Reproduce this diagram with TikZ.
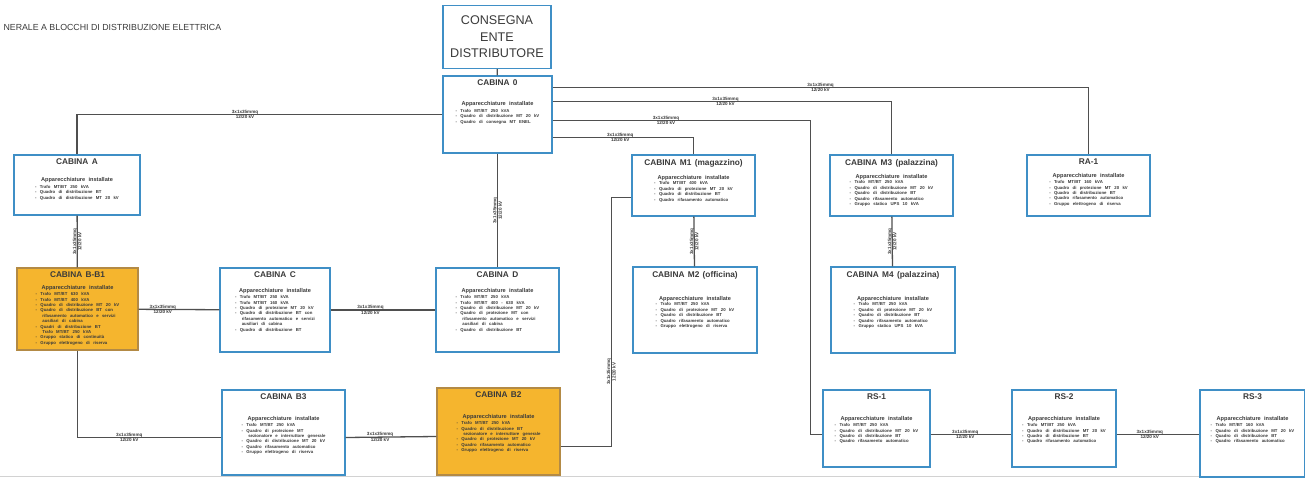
\documentclass[tikz,border=0pt]{standalone}
\usepackage{fontspec}
\setmainfont{Liberation Sans}
\usepackage{xcolor}
\usetikzlibrary{positioning}

\definecolor{boxblue}{HTML}{3F8FC6}
\definecolor{boxorange}{HTML}{F5B52E}
\definecolor{orangeedge}{HTML}{B38A45}
\definecolor{wire}{HTML}{4F4F4F}
\definecolor{txtgray}{HTML}{3A3A3A}

% contents of a cabin box: height, gap, title, list
\newcommand{\cabtext}[4]{\parbox[c][#1][t]{\linewidth}{\centering\vspace*{2pt}
  {\fontsize{8.3}{9.5}\selectfont\bfseries #3}\par\vspace{#2}
  {\fontsize{5.6}{6.4}\selectfont\bfseries Apparecchiature installate}\par
  {\fontsize{4.3}{5.4}\selectfont\bfseries\begin{tabular}{@{}l@{}}#4\end{tabular}}}}
\newcommand{\cavo}{3x1x35mmq\\12/20 kV}

\begin{document}
\begin{tikzpicture}[x=1pt,y=-1pt,
  cabbox/.style={draw=boxblue, line width=1.3pt, fill=white, inner sep=2pt, text=txtgray},
  hotbox/.style={cabbox, fill=boxorange, draw=orangeedge},
  wireline/.style={draw=wire, line width=1.3pt},
  cable/.style={font=\fontsize{4.6}{5.4}\selectfont\bfseries, align=center, inner sep=0.5pt, text=txtgray}]
\useasboundingbox (0,0) rectangle (1305,484);

\node[anchor=west, font=\fontsize{8.8}{9}\selectfont, text=txtgray] (title) at (0,27) {NERALE A BLOCCHI DI DISTRIBUZIONE ELETTRICA};

\node[cabbox, text width=104pt, minimum height=63pt, align=center,
  font=\fontsize{12.6}{16.5}\selectfont] (consegna) at (497,37) {CONSEGNA\\ENTE\\DISTRIBUTORE};

% first row
\node[cabbox, text width=105pt] (c0) at (497.5,114.5) {\cabtext{73pt}{8pt}{CABINA 0}{%
  - Trafo MT/BT 250 kVA\\- Quadro di distribuzione MT 20 kV\\- Quadro di consegna MT ENEL}};
\node[cabbox, text width=122pt] (ca) at (77,185) {\cabtext{56pt}{5pt}{CABINA A}{%
  - Trafo MT/BT 250 kVA\\- Quadro di distribuzione BT\\- Quadro di distribuzione MT 20 kV}};
\node[cabbox, text width=119pt] (m1) at (693.5,185.5) {\cabtext{57pt}{2pt}{CABINA M1 (magazzino)}{%
  - Trafo MT/BT 400 kVA\\- Quadro di protezione MT 20 kV\\- Quadro di distribuzione BT\\- Quadro rifasamento automatico}};
\node[cabbox, text width=119pt] (m3) at (891.5,185.5) {\cabtext{57pt}{1pt}{CABINA M3 (palazzina)}{%
  - Trafo MT/BT 250 kVA\\- Quadro di distribuzione MT 20 kV\\- Quadro di distribuzione BT\\- Quadro rifasamento automatico\\- Gruppo statico UPS 10 kVA}};
\node[cabbox, text width=119pt] (ra) at (1088.5,185.5) {\cabtext{57pt}{1pt}{RA-1}{%
  - Trafo MT/BT 160 kVA\\- Quadro di protezione MT 20 kV\\- Quadro di distribuzione BT\\- Quadro rifasamento automatico\\- Gruppo elettrogeno di riserva}};

% second row
\node[hotbox, text width=117pt] (bb) at (77.5,309) {\cabtext{78pt}{0pt}{CABINA B-B1}{%
  - Trafo MT/BT 630 kVA\\- Trafo MT/BT 400 kVA\\- Quadro di distribuzione MT 20 kV\\- Quadro di distribuzione BT con\\
  \ \ rifasamento automatico e servizi\\\ \ ausiliari di cabina\\- Quadri di distribuzione BT\\\ \ Trafo MT/BT 250 kVA\\
  - Gruppo statico di continuit\`a\\- Gruppo elettrogeno di riserva}};
\node[cabbox, text width=106pt] (cc) at (275,310) {\cabtext{80pt}{3pt}{CABINA C}{%
  - Trafo MT/BT 250 kVA\\- Trafo MT/BT 160 kVA\\- Quadro di protezione MT 20 kV\\- Quadro di distribuzione BT con\\
  \ \ rifasamento automatico e servizi\\\ \ ausiliari di cabina\\- Quadro di distribuzione BT}};
\node[cabbox, text width=119pt] (cd) at (497.5,310) {\cabtext{80pt}{3pt}{CABINA D}{%
  - Trafo MT/BT 250 kVA\\- Trafo MT/BT 400 - 630 kVA\\- Quadro di distribuzione MT 20 kV\\- Quadro di protezione MT con\\
  \ \ rifasamento automatico e servizi\\\ \ ausiliari di cabina\\- Quadro di distribuzione BT}};
\node[cabbox, text width=120pt] (m2) at (695,310) {\cabtext{82pt}{11pt}{CABINA M2 (officina)}{%
  - Trafo MT/BT 250 kVA\\- Quadro di protezione MT 20 kV\\- Quadro di distribuzione BT\\- Quadro rifasamento automatico\\- Gruppo elettrogeno di riserva}};
\node[cabbox, text width=120pt] (m4) at (893,310) {\cabtext{82pt}{11pt}{CABINA M4 (palazzina)}{%
  - Trafo MT/BT 250 kVA\\- Quadro di protezione MT 20 kV\\- Quadro di distribuzione BT\\- Quadro rifasamento automatico\\- Gruppo statico UPS 10 kVA}};

% third row
\node[cabbox, text width=119pt] (b3) at (283.5,432.5) {\cabtext{81pt}{9pt}{CABINA B3}{%
  - Trafo MT/BT 250 kVA\\- Quadro di protezione MT\\\ \ sezionatore e interruttore generale\\- Quadro di distribuzione MT 20 kV\\
  - Quadro rifasamento automatico\\- Gruppo elettrogeno di riserva}};
\node[hotbox, text width=119pt] (b2) at (498.5,431.5) {\cabtext{83pt}{9pt}{CABINA B2}{%
  - Trafo MT/BT 250 kVA\\- Quadro di distribuzione BT\\\ \ sezionatore e interruttore generale\\- Quadro di protezione MT 20 kV\\
  - Quadro rifasamento automatico\\- Gruppo elettrogeno di riserva}};
\node[cabbox, text width=103pt] (rs1) at (876.5,428.5) {\cabtext{73pt}{9pt}{RS-1}{%
  - Trafo MT/BT 250 kVA\\- Quadro di distribuzione MT 20 kV\\- Quadro di distribuzione BT\\- Quadro rifasamento automatico}};
\node[cabbox, text width=100pt] (rs2) at (1064,428.5) {\cabtext{73pt}{9pt}{RS-2}{%
  - Trafo MT/BT 250 kVA\\- Quadro di distribuzione MT 20 kV\\- Quadro di distribuzione BT\\- Quadro rifasamento automatico}};
\node[cabbox, text width=101pt] (rs3) at (1252.5,433.5) {\cabtext{83pt}{9pt}{RS-3}{%
  - Trafo MT/BT 160 kVA\\- Quadro di distribuzione MT 20 kV\\- Quadro di distribuzione BT\\- Quadro rifasamento automatico}};

% connections
\draw[wireline] (consegna) -- (c0);
\draw[wireline] (c0.west) -| node[cable, pos=0.27] {\cavo} (ca.north);
\draw[wireline] ([yshift=-12pt]c0.north east) -| node[cable, pos=0.25] {\cavo} (ra.north);
\draw[wireline] ([yshift=-26pt]c0.north east) -| node[cable, pos=0.255] {\cavo} (m3.north);
\draw[wireline] ([yshift=-45pt]c0.north east) -| node[cable, pos=0.22] {\cavo} ([xshift=-12pt,yshift=-6pt]rs1.west) -- ([yshift=-6pt]rs1.west);
\draw[wireline] ([yshift=-62pt]c0.north east) -| node[cable, pos=0.24] {\cavo} (m1.north);
\draw[wireline] (c0) -- node[cable, rotate=90] {\cavo} (cd);
\draw[wireline] (ca) -- node[cable, rotate=90] {\cavo} (bb);
\draw[wireline] (bb) -- node[cable, pos=0.3] {\cavo} (cc);
\draw[wireline] (cc) -- node[cable, pos=0.38] {\cavo} (cd);
\draw[wireline] (bb.south) |- node[cable, pos=0.68] {\cavo} ([yshift=-5pt]b3.west);
\draw[wireline] ([yshift=-5pt]b3.east) -- node[cable, pos=0.38] {\cavo} ([yshift=-5pt]b2.west);
\draw[wireline] ([yshift=-15pt]b2.east) -| node[cable, rotate=90, pos=0.65] {\cavo} ([xshift=-20pt,yshift=-12pt]m1.west) -- ([yshift=-12pt]m1.west);
\draw[wireline] (m1) -- node[cable, rotate=90] {\cavo} (m2);
\draw[wireline] (m3) -- node[cable, rotate=90] {\cavo} (m4);
\draw[wireline] ([yshift=-6pt]rs1.east) -- node[cable, pos=0.43] {\cavo} ([yshift=-6pt]rs2.west);
\draw[wireline] ([yshift=-6pt]rs2.east) -- node[cable, pos=0.4] {\cavo} ([yshift=-1pt]rs3.west);

\draw[gray!35, line width=1pt] (0,476) -- (rs3.west |- 0,476);
\end{tikzpicture}
\end{document}
